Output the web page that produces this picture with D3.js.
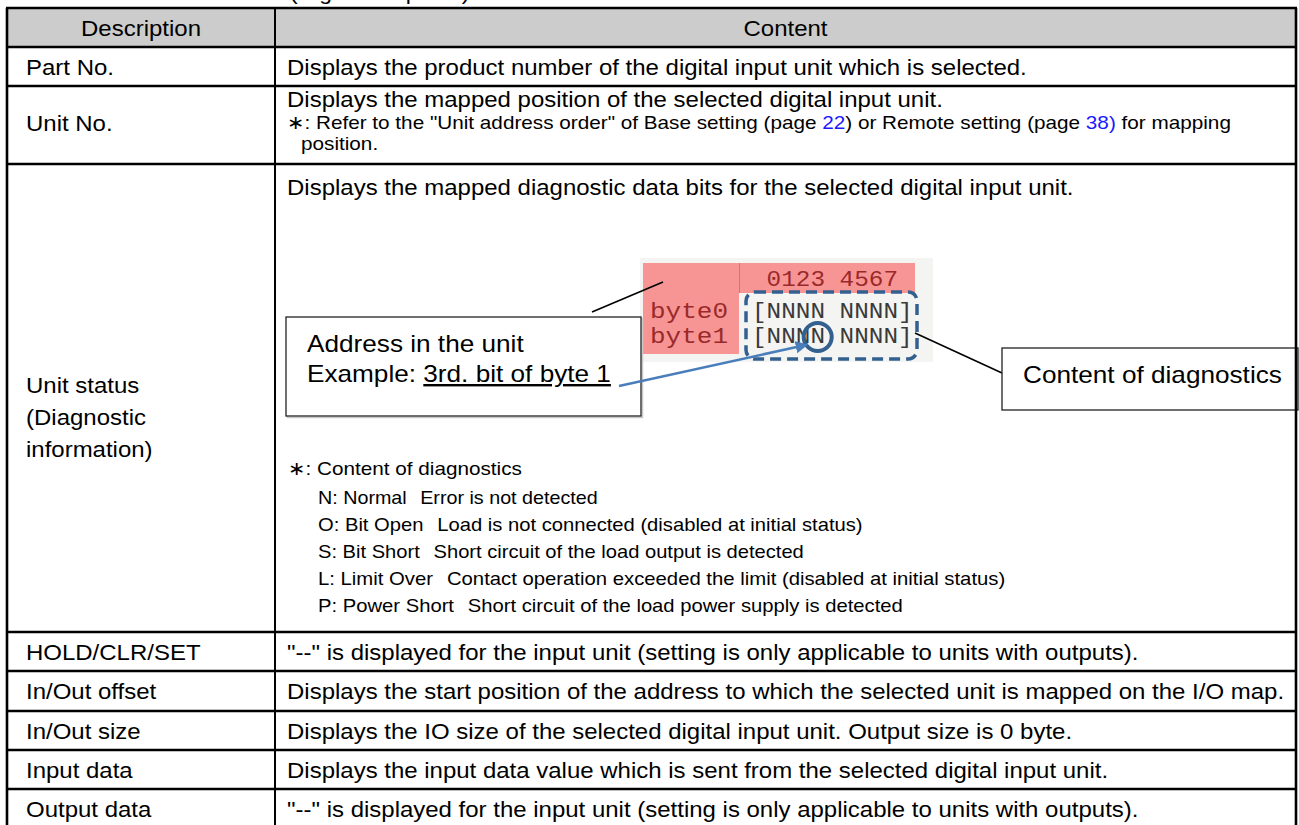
<!DOCTYPE html>
<html><head><meta charset="utf-8">
<script src="https://cdn.jsdelivr.net/npm/d3@7"></script>
<style>
body{margin:0;background:#fff}
svg{display:block}
text{font-family:"Liberation Sans",Arial,sans-serif;fill:#000}
.mono{font-family:"Liberation Mono","Courier New",monospace}
</style>
</head><body>
<svg id="c" width="1299" height="825"></svg>
<script>
// ---------------- data ----------------
const pageTitle = "(Right side panel)";
const headers = ["Description", "Content"];
const descriptions = [
  ["Part No."],
  ["Unit No."],
  ["Unit status", "(Diagnostic", "information)"],
  ["HOLD/CLR/SET"],
  ["In/Out offset"],
  ["In/Out size"],
  ["Input data"],
  ["Output data"]
];
const contents = [
  "Displays the product number of the digital input unit which is selected.",
  "Displays the mapped position of the selected digital input unit.",
  "Displays the mapped diagnostic data bits for the selected digital input unit.",
  "\"--\" is displayed for the input unit (setting is only applicable to units with outputs).",
  "Displays the start position of the address to which the selected unit is mapped on the I/O map.",
  "Displays the IO size of the selected digital input unit. Output size is 0 byte.",
  "Displays the input data value which is sent from the selected digital input unit.",
  "\"--\" is displayed for the input unit (setting is only applicable to units with outputs)."
];
// note of the Unit No. row: [text, isLink]
const unitNoNote = [
  ["\u2217: Refer to the \"Unit address order\" of Base setting (page ", false],
  ["22", true],
  [") or Remote setting (page ", false],
  ["38)", true],
  [" for mapping", false]
];
const unitNoNote2 = "position.";
const diagHeading = "\u2217: Content of diagnostics";
const diagCodes = ["N: Normal", "O: Bit Open", "S: Bit Short", "L: Limit Over", "P: Power Short"];
const diagMeanings = [
  "Error is not detected",
  "Load is not connected (disabled at initial status)",
  "Short circuit of the load output is detected",
  "Contact operation exceeded the limit (disabled at initial status)",
  "Short circuit of the load power supply is detected"
];
const bitHeader = "0123 4567";
const byteLabels = ["byte0", "byte1"];
const byteValues = ["[NNNN NNNN]", "[NNNN NNNN]"];
const exampleByte = 1;      // byte 1
const exampleBit = 3;       // 3rd bit (0-based)
const calloutAddress = ["Address in the unit", "Example: ", "3rd. bit of byte 1"];
const calloutContent = "Content of diagnostics";

// ---------------- layout ----------------
const X0 = 7, XC = 275, X1 = 1296;
const rowEdges = [8, 47, 86, 164, 632, 671, 711, 750, 789, 828];
const mainFont = 22, noteFont = 19, calloutFont = 24;
const stretch = 1.09;       // horizontal stretch of the reference's lettering

const svg = d3.select("#c");

// clipped page title above the table
svg.append("text").attr("class", "st").attr("x", 290).attr("y", 0).attr("font-size", 21).text(pageTitle);

// header background
svg.append("rect").attr("x", X0).attr("y", rowEdges[0])
  .attr("width", X1 - X0).attr("height", rowEdges[1] - rowEdges[0]).attr("fill", "#cccccc");

// header text
const colCenters = [(X0 + XC) / 2, (XC + X1) / 2];
svg.selectAll("text.hdr").data(headers).join("text").attr("class", "hdr st")
  .attr("x", (d, i) => colCenters[i]).attr("y", (rowEdges[0] + rowEdges[1]) / 2 + 8)
  .attr("text-anchor", "middle").attr("font-size", mainFont).text(d => d);

// rows
const rows = descriptions.map((d, i) => ({
  desc: d, content: contents[i], top: rowEdges[i + 1], bottom: rowEdges[i + 2]
}));
const labelCenterOffset = [null, 37, 253, null, null, null, null, null];
const contentCenterOffset = [null, 13, 23, null, null, null, null, null];
const lineGap = 32;

rows.forEach((r, i) => {
  const mid = (r.top + r.bottom) / 2;
  const lc = labelCenterOffset[i] == null ? mid : r.top + labelCenterOffset[i];
  const n = r.desc.length;
  svg.append("g").selectAll("text").data(r.desc).join("text").attr("class", "st")
    .attr("x", 26).attr("y", (d, k) => lc + (k - (n - 1) / 2) * lineGap + 8)
    .attr("font-size", mainFont).text(d => d);
  const cc = contentCenterOffset[i] == null ? mid : r.top + contentCenterOffset[i];
  svg.append("text").attr("class", "st").attr("x", 287).attr("y", cc + 8).attr("font-size", mainFont).text(r.content);
});

// Unit No. note
const note = svg.append("text").attr("class", "st").attr("x", 287).attr("y", rowEdges[2] + 36 + 7).attr("font-size", noteFont);
note.selectAll("tspan").data(unitNoNote).join("tspan")
  .attr("fill", d => d[1] ? "#1a1aff" : "#000").style("fill", d => d[1] ? "#1a1aff" : "#000").text(d => d[0]);
svg.append("text").attr("class", "st").attr("x", 301).attr("y", rowEdges[2] + 57 + 7).attr("font-size", noteFont).text(unitNoNote2);

// diagnostics legend
const dTop = rowEdges[3];
svg.append("text").attr("class", "st").attr("x", 288).attr("y", dTop + 304 + 7).attr("font-size", noteFont).text(diagHeading);
const dy = d3.scalePoint().domain(d3.range(diagCodes.length)).range([dTop + 333, dTop + 441]);
const leg = svg.append("g").selectAll("text").data(diagCodes).join("text").attr("class", "st")
  .attr("x", 318).attr("y", (d, i) => dy(i) + 7).attr("font-size", noteFont);
leg.append("tspan").text(d => d);
leg.append("tspan").attr("dx", 13).text((d, i) => diagMeanings[i]);

// ---------------- diagnostic screenshot figure ----------------
const fig = svg.append("g");
fig.append("rect").attr("x", 640).attr("y", 258).attr("width", 293).attr("height", 104).attr("fill", "#f4f4f2");
fig.append("rect").attr("x", 643).attr("y", 263).attr("width", 96).attr("height", 91).attr("fill", "#f79595");
fig.append("rect").attr("x", 739).attr("y", 263).attr("width", 176).attr("height", 30).attr("fill", "#f79595");
fig.append("line").attr("x1", 739.5).attr("x2", 739.5).attr("y1", 263).attr("y2", 293).attr("stroke", "#e86a6a").attr("stroke-width", 1);

const charW = 14.6;
const valX = 752;
const monoSize = 22;
const byteY = d3.scalePoint().domain(byteLabels).range([318, 343]);
fig.append("text").attr("class", "mono").attr("x", valX + charW).attr("y", 286)
  .attr("font-size", monoSize).attr("textLength", charW * bitHeader.length).attr("lengthAdjust", "spacingAndGlyphs")
  .style("fill", "#9a2a2a").text(bitHeader);
fig.selectAll("text.bl").data(byteLabels).join("text").attr("class", "mono bl")
  .attr("x", 650).attr("y", d => byteY(d)).attr("font-size", monoSize)
  .attr("textLength", 78).attr("lengthAdjust", "spacingAndGlyphs").style("fill", "#9a2a2a").text(d => d);
fig.selectAll("text.bv").data(byteValues).join("text").attr("class", "mono bv")
  .attr("x", valX).attr("y", (d, i) => byteY(byteLabels[i])).attr("font-size", monoSize)
  .attr("textLength", charW * 11).attr("lengthAdjust", "spacingAndGlyphs").style("fill", "#3a3a3a").text(d => d);

// dashed rounded frame around values
fig.append("rect").attr("x", 746).attr("y", 292).attr("width", 171).attr("height", 67).attr("rx", 9)
  .attr("fill", "none").attr("stroke", "#33608f").attr("stroke-width", 3.5).attr("stroke-dasharray", "11,6");
// circle on example bit
const cx = valX + charW * (exampleBit + 1.5);
const cy = byteY(byteLabels[exampleByte]) - 6;
fig.append("circle").attr("cx", cx).attr("cy", cy).attr("r", 14)
  .attr("fill", "none").attr("stroke", "#33608f").attr("stroke-width", 4);

// callout 1
const c1 = svg.append("g");
c1.append("rect").attr("x", 287.5).attr("y", 318.5).attr("width", 355).attr("height", 99).attr("fill", "none").attr("stroke", "#c8c8c8").attr("stroke-width", 1.5);
c1.append("rect").attr("x", 286).attr("y", 317).attr("width", 355).attr("height", 99).attr("fill", "#fff").attr("stroke", "#222").attr("stroke-width", 1.3);
c1.append("text").attr("class", "st").attr("x", 307).attr("y", 352).attr("font-size", calloutFont).text(calloutAddress[0]);
const ex = c1.append("text").attr("class", "st").attr("x", 307).attr("y", 382).attr("font-size", calloutFont);
ex.append("tspan").text(calloutAddress[1]);
ex.append("tspan").attr("text-decoration", "underline").style("text-decoration", "underline").text(calloutAddress[2]);
// leader from callout 1 to screenshot
svg.append("line").attr("x1", 592).attr("y1", 312).attr("x2", 663).attr("y2", 282).attr("stroke", "#000").attr("stroke-width", 1.6);

// arrow to circled bit
svg.append("defs").append("marker").attr("id", "ah").attr("viewBox", "0 0 10 10").attr("refX", 8).attr("refY", 5)
  .attr("markerWidth", 5).attr("markerHeight", 5).attr("orient", "auto")
  .append("path").attr("d", "M0,0 L10,5 L0,10 z").attr("fill", "#4a7ebb");
svg.append("line").attr("x1", 619).attr("y1", 386).attr("x2", cx - 12).attr("y2", cy + 8)
  .attr("stroke", "#4a7ebb").attr("stroke-width", 2.5).attr("marker-end", "url(#ah)");

// callout 2
svg.append("line").attr("x1", 915).attr("y1", 333).attr("x2", 1002).attr("y2", 373).attr("stroke", "#000").attr("stroke-width", 1.6);
svg.append("rect").attr("x", 1002).attr("y", 348).attr("width", 296).attr("height", 62).attr("fill", "#fff").attr("stroke", "#222").attr("stroke-width", 1.3);
svg.append("text").attr("class", "st").attr("x", 1023).attr("y", 383).attr("font-size", calloutFont).text(calloutContent);

// horizontal stretch of lettering to match the reference's wide text
svg.selectAll("text.st").each(function () {
  const w = this.getComputedTextLength();
  d3.select(this).attr("textLength", w * stretch).attr("lengthAdjust", "spacingAndGlyphs");
});

// ---------------- table grid ----------------
const grid = svg.append("g").attr("stroke", "#000");
grid.selectAll("line.h").data(rowEdges).join("line").attr("class", "h")
  .attr("x1", X0 - 1).attr("x2", X1 + 1).attr("y1", d => d).attr("y2", d => d).attr("stroke-width", 2.6);
grid.selectAll("line.v").data([X0, XC, X1]).join("line").attr("class", "v")
  .attr("x1", d => d).attr("x2", d => d).attr("y1", rowEdges[0]).attr("y2", rowEdges[rowEdges.length - 1])
  .attr("stroke-width", (d, i) => i === 1 ? 2 : 2.6);
</script>
</body></html>
